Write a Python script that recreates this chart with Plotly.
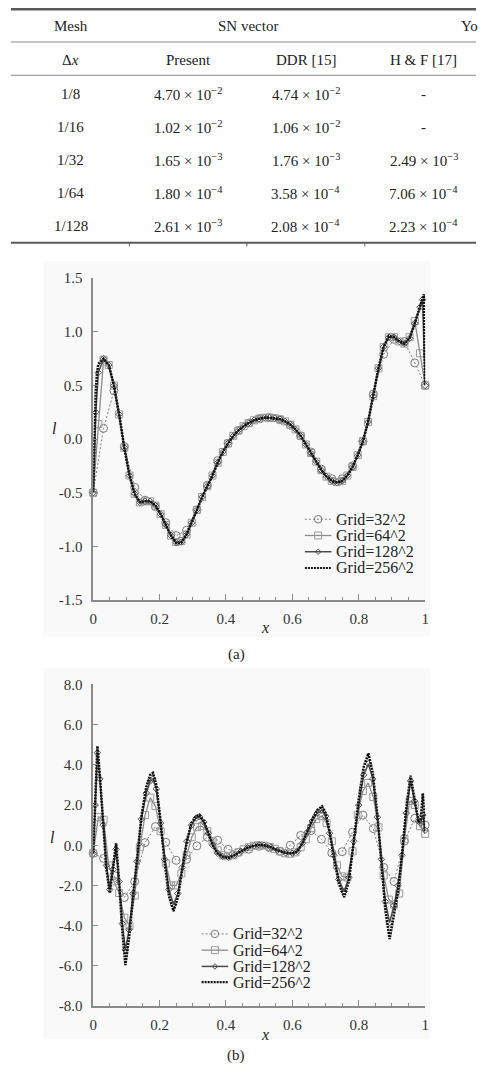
import plotly.graph_objects as go

W, H = 480, 1068


def px(x):
    return x / W


def py(y):
    return 1 - y / H


SERIF = "Liberation Serif, 'Times New Roman', Times, serif"

# ---------------- table data ----------------
mesh = ["1/8", "1/16", "1/32", "1/64", "1/128"]
present_m = ["4.70", "1.02", "1.65", "1.80", "2.61"]
present_e = [-2, -2, -3, -4, -3]
ddr_m = ["4.74", "1.06", "1.76", "3.58", "2.08"]
ddr_e = [-2, -2, -3, -4, -4]
hf_m = [None, None, "2.49", "7.06", "2.23"]
hf_e = [None, None, -3, -4, -4]

# ---------------- chart (a) data ----------------
X32 = [i / 32 for i in range(33)]
X64 = [i / 64 for i in range(65)]
X128_a = [0, 1 / 128] + [i / 64 for i in range(1, 64)] + [127 / 128, 1]
X256_a = [0, 1 / 256, 2 / 256, 3 / 256] + [i / 64 for i in range(1, 64)] + [253 / 256, 254 / 256, 255 / 256, 1]

Y32_a = [-0.5, 0.10, 0.45, -0.07, -0.45, -0.57, -0.63, -0.78, -0.90, -0.85,
         -0.66, -0.43, -0.20, -0.04, 0.08, 0.15, 0.19, 0.20, 0.18, 0.13,
         0.03, -0.12, -0.28, -0.37, -0.37, -0.25, -0.02, 0.42, 0.79, 0.93,
         0.91, 0.71, 0.5]

Y64_a = [-0.5, 0.14, 0.74, 0.69, 0.50, 0.23, -0.08, -0.34, -0.51, -0.59,
         -0.58, -0.58, -0.62, -0.70, -0.80, -0.90, -0.96, -0.95, -0.89, -0.78,
         -0.66, -0.54, -0.44, -0.34, -0.22, -0.12, -0.04, 0.03, 0.08, 0.12,
         0.15, 0.175, 0.19, 0.20, 0.20, 0.195, 0.185, 0.165, 0.135, 0.09,
         0.03, -0.05, -0.13, -0.21, -0.29, -0.35, -0.39, -0.40, -0.39, -0.34,
         -0.26, -0.15, -0.02, 0.16, 0.40, 0.66, 0.86, 0.95, 0.95, 0.91,
         0.89, 0.95, 1.10, 0.80, 0.5]

Y128_a = [-0.5, 0.25, 0.62, 0.75, 0.69, 0.50, 0.23, -0.08, -0.34, -0.51,
          -0.59, -0.58, -0.58, -0.62, -0.70, -0.80, -0.90, -0.965, -0.96, -0.89,
          -0.78, -0.66, -0.54, -0.44, -0.34, -0.22, -0.12, -0.04, 0.03, 0.08,
          0.12, 0.15, 0.175, 0.19, 0.20, 0.20, 0.195, 0.185, 0.165, 0.135,
          0.09, 0.03, -0.05, -0.13, -0.21, -0.29, -0.35, -0.39, -0.405, -0.39,
          -0.34, -0.26, -0.15, -0.02, 0.16, 0.40, 0.66, 0.86, 0.95, 0.95,
          0.91, 0.89, 0.94, 1.08, 1.23, 1.30, 0.5]

Y256_a = [-0.5, 0.05, 0.45, 0.62, 0.70, 0.75, 0.69, 0.50, 0.23, -0.08,
          -0.34, -0.51, -0.59, -0.58, -0.58, -0.62, -0.70, -0.80, -0.90, -0.97,
          -0.965, -0.89, -0.78, -0.66, -0.54, -0.44, -0.34, -0.22, -0.12, -0.04,
          0.03, 0.08, 0.12, 0.15, 0.175, 0.19, 0.20, 0.20, 0.195, 0.185,
          0.165, 0.135, 0.09, 0.03, -0.05, -0.13, -0.21, -0.29, -0.35, -0.39,
          -0.405, -0.39, -0.34, -0.26, -0.15, -0.02, 0.16, 0.40, 0.66, 0.86,
          0.96, 0.95, 0.91, 0.89, 0.94, 1.08, 1.24, 1.29, 1.32, 1.35, 0.5]

# ---------------- chart (b) data ----------------
Y32_b = [-0.4, -0.65, -1.5, -2.6, -1.8, 0.13, 0.93, 0.15, -0.75, -0.7,
         -0.03, 0.4, 0.25, -0.2, -0.35, -0.2, -0.05, -0.12, -0.3, 0.0,
         0.49, 0.73, 0.3, -0.38, -0.32, 0.65, 1.5, 0.83, -1.1, -1.8,
         0.2, 1.34, 1.0]

Y64_b = [-0.4, 1.4, 1.27, -1.0, -1.8, -2.37, -3.6, -4.0, -2.5, -0.1,
         1.5, 2.37, 1.95, 0.7, -0.9, -2.0, -2.0, -1.4, -0.5, 0.4,
         0.9, 0.95, 0.7, 0.2, -0.25, -0.5, -0.55, -0.5, -0.35, -0.2,
         -0.1, -0.02, 0.0, -0.02, -0.08, -0.18, -0.3, -0.4, -0.42, -0.35,
         -0.1, 0.3, 0.85, 1.3, 1.45, 1.1, 0.2, -1.0, -1.55, -1.6,
         -0.3, 1.5, 2.7, 3.1, 2.4, 0.9, -1.5, -2.7, -2.95, -2.4,
         0.3, 2.2, 2.0, 0.95, 0.57]

XF_b = [0.000, 0.006, 0.0127, 0.020, 0.030, 0.040, 0.050, 0.060, 0.069, 0.078,
        0.088, 0.097, 0.108, 0.120, 0.132, 0.145, 0.160, 0.172, 0.180, 0.190,
        0.203, 0.215, 0.228, 0.242, 0.255, 0.268, 0.282, 0.296, 0.310, 0.320,
        0.333, 0.347, 0.360, 0.375, 0.390, 0.408, 0.425, 0.445, 0.465, 0.485,
        0.500, 0.515, 0.535, 0.555, 0.580, 0.600, 0.615, 0.630, 0.645, 0.660,
        0.675, 0.689, 0.700, 0.712, 0.725, 0.740, 0.756, 0.770, 0.785, 0.800,
        0.815, 0.829, 0.842, 0.856, 0.868, 0.880, 0.893, 0.906, 0.918, 0.930,
        0.943, 0.956, 0.968, 0.980, 0.987, 0.993, 1.000]

Y256_b = [-0.4, 2.5, 4.93, 3.5, 1.0, -1.2, -2.37, -1.2, 0.1, -1.8,
          -4.3, -5.96, -4.6, -2.6, -0.8, 1.4, 2.9, 3.5, 3.6, 3.0,
          1.2, -0.8, -2.5, -3.27, -2.6, -1.2, 0.2, 1.1, 1.45, 1.5,
          1.2, 0.6, 0.0, -0.4, -0.58, -0.62, -0.5, -0.3, -0.12, -0.02,
          0.02, 0.0, -0.1, -0.25, -0.38, -0.41, -0.3, 0.1, 0.7, 1.3,
          1.75, 1.93, 1.6, 0.7, -0.6, -1.9, -2.58, -1.8, 0.2, 2.3,
          3.9, 4.57, 3.6, 1.5, -0.8, -3.2, -4.66, -3.4, -2.3, -0.5,
          1.8, 3.46, 2.4, 1.14, 1.3, 2.58, 0.65]

Y128_b = [-0.4, 2.0, 4.6, 3.3, 1.0, -1.0, -2.2, -1.2, -0.2, -1.8,
          -3.9, -5.2, -4.2, -2.4, -0.8, 1.3, 2.6, 3.2, 3.3, 2.8,
          1.1, -0.7, -2.2, -2.95, -2.4, -1.1, 0.2, 1.0, 1.35, 1.42,
          1.15, 0.6, 0.0, -0.4, -0.56, -0.6, -0.5, -0.3, -0.12, -0.02,
          0.02, 0.0, -0.1, -0.25, -0.38, -0.4, -0.3, 0.1, 0.65, 1.2,
          1.6, 1.75, 1.45, 0.6, -0.5, -1.7, -2.3, -1.6, 0.2, 2.0,
          3.5, 4.05, 3.3, 1.4, -0.7, -2.8, -3.85, -3.0, -2.0, -0.5,
          1.6, 3.2, 2.2, 1.2, 1.1, 1.5, 0.75]

series_names = ["Grid=32^2", "Grid=64^2", "Grid=128^2", "Grid=256^2"]

# ---------------- figure ----------------
fig = go.Figure()

C32, C64, C128, C256 = "#7a7a7a", "#8c8c8c", "#4a4a4a", "#111111"
styles = [
    dict(line=dict(color=C32, width=1, dash="2px,2px"),
         marker=dict(symbol="circle-open", size=8, color=C32, line=dict(width=1)), mode="lines+markers"),
    dict(line=dict(color=C64, width=1.3),
         marker=dict(symbol="square-open", size=7, color="#9a9a9a", line=dict(width=1)), mode="lines+markers"),
    dict(line=dict(color=C128, width=1.5),
         marker=dict(symbol="diamond-open", size=5, color="#555555", line=dict(width=1)), mode="lines+markers"),
    dict(line=dict(color=C256, width=2.6, dash="2px,1px"), mode="lines"),
]

data_a = [(X32, Y32_a), (X64, Y64_a), (X128_a, Y128_a), (X256_a, Y256_a)]
data_b = [(X32, Y32_b), (X64, Y64_b), (XF_b, Y128_b), (XF_b, Y256_b)]

for (xs, ys), name, st in zip(data_a, series_names, styles):
    fig.add_trace(go.Scatter(x=xs, y=ys, name=name, xaxis="x", yaxis="y",
                             showlegend=False, cliponaxis=False, **st))
for (xs, ys), name, st in zip(data_b, series_names, styles):
    fig.add_trace(go.Scatter(x=xs, y=ys, name=name, xaxis="x2", yaxis="y2",
                             showlegend=False, cliponaxis=False, **st))

tickfont = dict(family=SERIF, size=15, color="#333333")
axcol = "#8a8a8a"

x_tickvals = [0, 0.2, 0.4, 0.6, 0.8, 1.0]
x_ticktext = ["0", "0.2", "0.4", "0.6", "0.8", "1"]
ya_vals = [-1.5, -1.0, -0.5, 0.0, 0.5, 1.0, 1.5]
ya_text = ["-1.5", "-1.0", "-0.5", "0.0", "0.5", "1.0", "1.5"]
yb_vals = [-8, -6, -4, -2, 0, 2, 4, 6, 8]
yb_text = ["-8.0", "-6.0", "-4.0", "-2.0", "0.0", "2.0", "4.0", "6.0", "8.0"]

xdom = [px(90.7), px(428.3)]


def xaxis_cfg(anchor):
    return dict(domain=xdom, anchor=anchor, range=[0, 1], showline=True, linecolor=axcol,
                linewidth=1.5, showgrid=False, zeroline=False, ticks="inside", ticklen=6,
                tickwidth=1.2, tickcolor=axcol, tickmode="array", tickvals=x_tickvals,
                ticktext=x_ticktext, tickfont=tickfont, ticklabelstandoff=4,
                minor=dict(dtick=0.05, tick0=0, ticks="inside", ticklen=3, tickwidth=1, tickcolor=axcol),
                fixedrange=True)


def yaxis_cfg(anchor, dom, rng, vals, text):
    return dict(domain=dom, anchor=anchor, range=rng, showline=True, linecolor=axcol,
                linewidth=1.5, showgrid=False, zeroline=False, ticks="inside", ticklen=5,
                tickwidth=1.2, tickcolor=axcol, tickmode="array", tickvals=vals, ticktext=text,
                tickfont=tickfont, ticklabelstandoff=6, fixedrange=True)


annotations = []


def txt(x, y, s, size=15, xanchor="center", color="#222222"):
    annotations.append(dict(x=px(x), y=py(y), xref="paper", yref="paper", text=s,
                            showarrow=False, xanchor=xanchor, yanchor="middle",
                            font=dict(family=SERIF, size=size, color=color)))


def sci(m, e):
    return f"{m} × 10<sup>{'−' + str(abs(e)) if e < 0 else e}</sup>"


# table header
txt(68, 18.5, "Mesh")
txt(248, 18.5, "SN vector")
txt(463, 18.5, "Yo", xanchor="left")
txt(68, 52.3, "Δ<i>x</i>")
txt(187.5, 52.3, "Present")
txt(307, 52.3, "DDR [15]")
txt(427, 52.3, "H &amp; F [17]")
row_y = [87.3, 120.5, 154.3, 188.3, 221.7]
for i, yy in enumerate(row_y):
    txt(68, yy, mesh[i])
    txt(187.5, yy, sci(present_m[i], present_e[i]))
    txt(307, yy, sci(ddr_m[i], ddr_e[i]))
    txt(427, yy, "-" if hf_m[i] is None else sci(hf_m[i], hf_e[i]))

# axis titles and captions
txt(265, 629, "<i>x</i>", size=16)
txt(51, 427, "<i>l</i>", size=16)
txt(236, 656, "(a)", size=15)
txt(265, 1041.7, "<i>x</i>", size=16)
txt(49, 842, "<i>l</i>", size=16)
txt(236, 1063, "(b)", size=15)

shapes = []


def hline(y, x0, x1, w, c, dash="solid"):
    shapes.append(dict(type="line", xref="paper", yref="paper", x0=px(x0), x1=px(x1),
                       y0=py(y), y1=py(y), line=dict(color=c, width=w, dash=dash)))


hline(1.3, 7, 480, 2.6, "#5a5a5a")
hline(34.5, 7, 480, 1, "#8a8a8a")
hline(68.3, 7, 480, 1, "#8a8a8a")
hline(238.3, 7, 480, 2.2, "#5a5a5a")
for xv in [127.5, 247, 367]:
    shapes.append(dict(type="line", xref="paper", yref="paper", x0=px(xv), x1=px(xv),
                       y0=py(238), y1=py(242), line=dict(color="#5a5a5a", width=1)))

for (y0, y1) in [(257, 638), (670, 1047)]:
    shapes.append(dict(type="rect", xref="paper", yref="paper", x0=px(40), x1=px(433),
                       y0=py(y1), y1=py(y0), fillcolor="#f9f9f9", line=dict(width=0),
                       layer="below"))


# legends (drawn as keys beside the text, one block per chart)
def legend_block(x0, x1, tx, ys):
    cx = (x0 + x1) / 2
    for i, (yy, name, st) in enumerate(zip(ys, series_names, styles)):
        ln = st["line"]
        hline(yy, x0, x1, min(ln["width"], 2.2), ln["color"], ln.get("dash", "solid"))
        if i == 0:
            r = 3.8
            shapes.append(dict(type="circle", xref="paper", yref="paper",
                               x0=px(cx - r), x1=px(cx + r), y0=py(yy + r), y1=py(yy - r),
                               line=dict(color=C32, width=1)))
        elif i == 1:
            r = 3.5
            shapes.append(dict(type="rect", xref="paper", yref="paper",
                               x0=px(cx - r), x1=px(cx + r), y0=py(yy + r), y1=py(yy - r),
                               line=dict(color="#9a9a9a", width=1)))
        elif i == 2:
            r = 2.8
            path = (f"M {px(cx - r)},{py(yy)} L {px(cx)},{py(yy - r)} "
                    f"L {px(cx + r)},{py(yy)} L {px(cx)},{py(yy + r)} Z")
            shapes.append(dict(type="path", xref="paper", yref="paper", path=path,
                               line=dict(color="#555555", width=1)))
        txt(tx, yy, name, size=16, xanchor="left")


legend_block(306, 333, 336, [519, 535.5, 552, 568.5])
legend_block(201, 228, 231, [940, 956.5, 973, 989])

fig.update_layout(
    width=W, height=H,
    margin=dict(l=0, r=0, t=0, b=0),
    paper_bgcolor="white",
    plot_bgcolor="rgba(0,0,0,0)",
    xaxis=xaxis_cfg("y"),
    yaxis=yaxis_cfg("x", [py(601), py(274.3)], [-1.5, 1.5], ya_vals, ya_text),
    xaxis2=xaxis_cfg("y2"),
    yaxis2=yaxis_cfg("x2", [py(1013.3), py(686.7)], [-8, 8], yb_vals, yb_text),
    annotations=annotations,
    shapes=shapes,
    showlegend=False,
)

fig.write_html("out.html")
